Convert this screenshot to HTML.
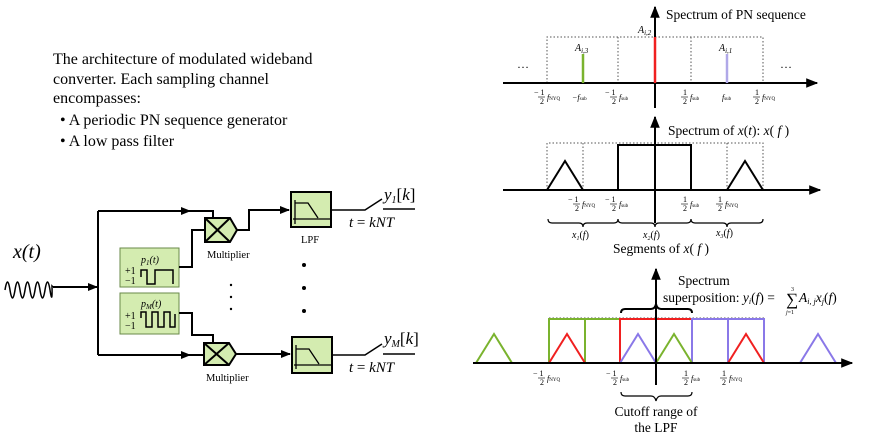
<!DOCTYPE html>
<html><head><meta charset="utf-8"><style>
body{margin:0;background:#fff;}
svg{display:block;font-family:"Liberation Serif",serif;}
.i{font-style:italic}
</style></head><body>
<svg width="871" height="437" viewBox="0 0 871 437" xmlns="http://www.w3.org/2000/svg">
<defs>
<marker id="a" viewBox="0 0 10 10" refX="9" refY="5" markerWidth="10" markerHeight="10" markerUnits="userSpaceOnUse" orient="auto"><path d="M0,1 L10,5 L0,9 z" fill="#000"/></marker>
<marker id="b" viewBox="0 0 10 10" refX="9" refY="5" markerWidth="12" markerHeight="12" markerUnits="userSpaceOnUse" orient="auto"><path d="M0,1 L10,5 L0,9 z" fill="#000"/></marker>
</defs>

<!-- left text -->
<g font-size="16">
<text x="53" y="64">The architecture of modulated wideband</text>
<text x="53" y="84">converter. Each sampling channel</text>
<text x="53" y="103">encompasses:</text>
<text x="60" y="125">• A periodic PN sequence generator</text>
<text x="60" y="146">• A low pass filter</text>
</g>

<!-- block diagram -->
<text x="13" y="258" font-size="20" class="i">x(t)</text>
<path d="M5,290 q2.5,-16 5,0 t5,0 t5,0 t5,0 t5,0 t5,0 t5,0 t5,0 t5,0 t2,-4 L53,287" fill="none" stroke="#000" stroke-width="1.5"/>
<line x1="53" y1="287" x2="97" y2="287" stroke="#000" stroke-width="2" marker-end="url(#a)"/>
<line x1="98" y1="211" x2="98" y2="355" stroke="#000" stroke-width="2"/>
<polyline points="98,211 190,211" fill="none" stroke="#000" stroke-width="2" marker-end="url(#a)"/>
<polyline points="188,211 213,211 213,218" fill="none" stroke="#000" stroke-width="2"/>
<polyline points="98,355 190,355" fill="none" stroke="#000" stroke-width="2" marker-end="url(#a)"/>
<line x1="188" y1="355" x2="204" y2="355" stroke="#000" stroke-width="2"/>

<!-- multipliers -->
<g stroke="#000" stroke-width="2" fill="#d4ecb0">
<path d="M205,218 H230 L237,230 L230,242 H205 Z"/>
<line x1="205" y1="218" x2="230" y2="242"/><line x1="230" y1="218" x2="205" y2="242"/>
<path d="M204,343 H229 L236,354 L229,365 H204 Z"/>
<line x1="204" y1="343" x2="229" y2="365"/><line x1="229" y1="343" x2="204" y2="365"/>
</g>
<text x="207" y="258" font-size="10.5">Multiplier</text>
<text x="206" y="381" font-size="10.5">Multiplier</text>

<!-- PN boxes -->
<g stroke="#6a8a4a" stroke-width="1" fill="#d4ecb0">
<rect x="120" y="248" width="59" height="39"/>
<rect x="120" y="293" width="59" height="41"/>
</g>
<g font-size="10">
<text x="141" y="263" class="i">p<tspan font-size="7" dy="2">1</tspan><tspan dy="-2">(t)</tspan></text>
<text x="141" y="307" class="i">p<tspan font-size="7" dy="2">M</tspan><tspan dy="-2">(t)</tspan></text>
<text x="125" y="274">+1</text><text x="125" y="284">−1</text>
<text x="125" y="319">+1</text><text x="125" y="329">−1</text>
</g>
<polyline points="141,277 141,270 147,270 147,284 155,284 155,270 173,270 173,284" fill="none" stroke="#000" stroke-width="1.5"/>
<polyline points="141,318 141,312 146,312 146,327 152,327 152,312 158,312 158,327 164,327 164,312 170,312 170,327 175,327 175,314" fill="none" stroke="#000" stroke-width="1.5"/>
<polyline points="179,267 192,267 192,230 205,230" fill="none" stroke="#000" stroke-width="2"/>
<polyline points="179,313 192,313 192,335 213,335 213,343" fill="none" stroke="#000" stroke-width="2"/>

<!-- mult to LPF -->
<polyline points="237,230 249,230 249,210 289,210" fill="none" stroke="#000" stroke-width="2" marker-end="url(#a)"/>
<line x1="236" y1="354" x2="290" y2="354" stroke="#000" stroke-width="2" marker-end="url(#a)"/>

<!-- LPFs -->
<g stroke="#000" stroke-width="2" fill="#d4ecb0">
<rect x="291" y="192" width="40" height="35"/>
<rect x="292" y="337" width="40" height="36"/>
</g>
<g stroke="#000" stroke-width="1.3" fill="none">
<polyline points="295,200 295,224"/><polyline points="293,219 330,219"/><polyline points="295,203 308,203 318,218"/>
<polyline points="296,345 296,369"/><polyline points="294,365 331,365"/><polyline points="296,349 309,349 319,364"/>
</g>
<text x="301" y="243" font-size="10.5">LPF</text>

<!-- outputs -->
<g stroke="#000" stroke-width="1.5" fill="none">
<polyline points="331,210 365,210 382,199"/><line x1="383" y1="209" x2="415" y2="209"/>
<polyline points="332,355 365,355 382,344"/><line x1="383" y1="354" x2="415" y2="354"/>
</g>
<text x="384" y="200" font-size="17" class="i">y<tspan font-size="10" dy="3">1</tspan><tspan dy="-3" font-style="normal">[</tspan>k<tspan font-style="normal">]</tspan></text>
<text x="384" y="344" font-size="17" class="i">y<tspan font-size="10" dy="3">M</tspan><tspan dy="-3" font-style="normal">[</tspan>k<tspan font-style="normal">]</tspan></text>
<text x="349" y="227" font-size="15" class="i">t <tspan font-style="normal">=</tspan> kNT</text>
<text x="349" y="372" font-size="15" class="i">t <tspan font-style="normal">=</tspan> kNT</text>
<g fill="#000">
<circle cx="231" cy="285" r="1.2"/><circle cx="231" cy="297" r="1.2"/><circle cx="231" cy="309" r="1.2"/>
<circle cx="304" cy="265" r="2"/><circle cx="304" cy="288" r="2"/><circle cx="304" cy="311" r="2"/>
</g>

<!-- TOP SPECTRUM -->
<g stroke="#555" stroke-width="1" stroke-dasharray="1.5,2" fill="none">
<polyline points="547,83 547,37 763,37 763,83"/>
<line x1="618" y1="37" x2="618" y2="83"/><line x1="691" y1="37" x2="691" y2="83"/>
</g>
<line x1="503" y1="83" x2="817" y2="83" stroke="#000" stroke-width="2" marker-end="url(#b)"/>
<line x1="655" y1="108" x2="655" y2="7" stroke="#000" stroke-width="2" marker-end="url(#b)"/>
<line x1="655" y1="37" x2="655" y2="83" stroke="#f02020" stroke-width="2.5"/>
<line x1="583" y1="54" x2="583" y2="83" stroke="#7ab32e" stroke-width="2.5"/>
<line x1="727" y1="54" x2="727" y2="83" stroke="#b0a8e8" stroke-width="2.5"/>
<text x="666" y="19" font-size="13.5">Spectrum of PN sequence</text>
<g font-size="10" class="i">
<text x="638" y="33">A<tspan font-size="7" dy="2">i,2</tspan></text>
<text x="575" y="51">A<tspan font-size="7" dy="2">i,3</tspan></text>
<text x="719" y="51">A<tspan font-size="7" dy="2">i,1</tspan></text>
</g>
<text x="517" y="68" font-size="12">…</text><text x="780" y="68" font-size="12">…</text>
<g font-size="8">
<text x="534" y="95">− <tspan>1</tspan></text><text x="540" y="104">2</text><line x1="538" y1="97" x2="545" y2="97" stroke="#000" stroke-width=".6"/><text x="547" y="100" class="i">f<tspan font-size="5" font-style="normal">NYQ</tspan></text>
<text x="572" y="100" class="i">−f<tspan font-size="5" font-style="normal">sub</tspan></text>
<text x="605" y="95">− 1</text><text x="612" y="104">2</text><line x1="610" y1="97" x2="617" y2="97" stroke="#000" stroke-width=".6"/><text x="619" y="100" class="i">f<tspan font-size="5" font-style="normal">sub</tspan></text>
<text x="683" y="95">1</text><text x="683" y="104">2</text><line x1="681" y1="97" x2="688" y2="97" stroke="#000" stroke-width=".6"/><text x="690" y="100" class="i">f<tspan font-size="5" font-style="normal">sub</tspan></text>
<text x="722" y="100" class="i">f<tspan font-size="5" font-style="normal">sub</tspan></text>
<text x="755" y="95">1</text><text x="755" y="104">2</text><line x1="753" y1="97" x2="760" y2="97" stroke="#000" stroke-width=".6"/><text x="762" y="100" class="i">f<tspan font-size="5" font-style="normal">NYQ</tspan></text>
</g>

<!-- MIDDLE SPECTRUM -->
<g stroke="#555" stroke-width="1" stroke-dasharray="1.5,2" fill="none">
<polyline points="547,190 547,143 763,143 763,190"/>
<line x1="583" y1="143" x2="583" y2="190"/><line x1="727" y1="143" x2="727" y2="190"/>
</g>
<line x1="503" y1="190" x2="820" y2="190" stroke="#000" stroke-width="2" marker-end="url(#b)"/>
<line x1="655" y1="223" x2="655" y2="117" stroke="#000" stroke-width="2" marker-end="url(#b)"/>
<g stroke="#000" stroke-width="2" fill="none">
<polyline points="618,190 618,145 691,145 691,190"/>
<polyline points="547,190 565,161 583,190"/>
<polyline points="727,190 745,161 763,190"/>
</g>
<text x="668" y="135" font-size="13.5">Spectrum of <tspan class="i">x</tspan>(<tspan class="i">t</tspan>): <tspan class="i">x</tspan>( <tspan class="i">f</tspan> )</text>
<g font-size="8">
<text x="568" y="202">− 1</text><text x="575" y="211">2</text><line x1="573" y1="204" x2="580" y2="204" stroke="#000" stroke-width=".6"/><text x="582" y="207" class="i">f<tspan font-size="5" font-style="normal">NYQ</tspan></text>
<text x="605" y="202">− 1</text><text x="612" y="211">2</text><line x1="610" y1="204" x2="617" y2="204" stroke="#000" stroke-width=".6"/><text x="619" y="207" class="i">f<tspan font-size="5" font-style="normal">sub</tspan></text>
<text x="683" y="202">1</text><text x="683" y="211">2</text><line x1="681" y1="204" x2="688" y2="204" stroke="#000" stroke-width=".6"/><text x="690" y="207" class="i">f<tspan font-size="5" font-style="normal">sub</tspan></text>
<text x="718" y="202">1</text><text x="718" y="211">2</text><line x1="716" y1="204" x2="723" y2="204" stroke="#000" stroke-width=".6"/><text x="725" y="207" class="i">f<tspan font-size="5" font-style="normal">NYQ</tspan></text>
</g>
<g stroke="#000" stroke-width="1.2" fill="none">
<path d="M548,219 q0,4 4,4 H579 q4,0 4,4 q0,-4 4,-4 H614 q4,0 4,-4"/>
<path d="M618,219 q0,4 4,4 H651 q4,0 4,4 q0,-4 4,-4 H687 q4,0 4,-4"/>
<path d="M691,219 q0,4 4,4 H723 q4,0 4,4 q0,-4 4,-4 H759 q4,0 4,-4"/>
</g>
<g font-size="10" class="i">
<text x="572" y="238">x<tspan font-size="6" dy="2">1</tspan><tspan dy="-2" font-style="normal">(</tspan>f<tspan font-style="normal">)</tspan></text>
<text x="643" y="238">x<tspan font-size="6" dy="2">2</tspan><tspan dy="-2" font-style="normal">(</tspan>f<tspan font-style="normal">)</tspan></text>
<text x="716" y="236">x<tspan font-size="6" dy="2">3</tspan><tspan dy="-2" font-style="normal">(</tspan>f<tspan font-style="normal">)</tspan></text>
</g>
<text x="613" y="253" font-size="13.5">Segments of <tspan class="i">x</tspan>( <tspan class="i">f</tspan> )</text>

<!-- BOTTOM SPECTRUM -->
<line x1="549" y1="318" x2="764" y2="318" stroke="#555" stroke-dasharray="1.5,2"/>
<g fill="none" stroke-width="2">
<polyline points="549,363 549,319 620,319 620,363" stroke="#7ab32e"/><line x1="585" y1="319" x2="585" y2="363" stroke="#7ab32e"/>
<polyline points="620,363 620,319 692,319 692,363" stroke="#f02020"/><line x1="656" y1="319" x2="656" y2="363" stroke="#f02020"/>
<polyline points="692,363 692,319 764,319 764,363" stroke="#8a78e8"/><line x1="728" y1="319" x2="728" y2="363" stroke="#8a78e8"/>
<polyline points="476,363 494,334 512,363" stroke="#7ab32e"/>
<polyline points="549,363 567,334 585,363" stroke="#f02020"/>
<polyline points="620,363 638,334 656,363" stroke="#8a78e8"/>
<polyline points="656,363 674,334 692,363" stroke="#7ab32e"/>
<polyline points="728,363 746,334 764,363" stroke="#f02020"/>
<polyline points="800,363 818,334 836,363" stroke="#8a78e8"/>
</g>
<line x1="473" y1="363" x2="852" y2="363" stroke="#000" stroke-width="2" marker-end="url(#b)"/>
<line x1="656" y1="385" x2="656" y2="269" stroke="#000" stroke-width="2" marker-end="url(#b)"/>
<path d="M621,313 q0,-4 4,-4 H651 q4,0 5,-5 q1,5 5,5 H688 q4,0 4,4" fill="none" stroke="#000" stroke-width="2"/>
<text x="678" y="285" font-size="13.5">Spectrum</text>
<text x="663" y="302" font-size="13.5">superposition: <tspan class="i">y<tspan font-size="8" dy="2">i</tspan><tspan dy="-2" font-style="normal">(</tspan>f<tspan font-style="normal">) = </tspan></tspan></text>
<text x="786" y="305" font-size="17">∑</text>
<text x="791" y="291" font-size="6">3</text>
<text x="786" y="314" font-size="6" class="i">j<tspan font-style="normal">=1</tspan></text>
<text x="799" y="302" font-size="13.5" class="i">A<tspan font-size="8" dy="2">i, j</tspan><tspan dy="-2">x</tspan><tspan font-size="8" dy="2">j</tspan><tspan dy="-2" font-style="normal">(</tspan>f<tspan font-style="normal">)</tspan></text>
<g font-size="8">
<text x="533" y="376">− 1</text><text x="540" y="385">2</text><line x1="538" y1="378" x2="545" y2="378" stroke="#000" stroke-width=".6"/><text x="547" y="381" class="i">f<tspan font-size="5" font-style="normal">NYQ</tspan></text>
<text x="606" y="376">− 1</text><text x="613" y="385">2</text><line x1="611" y1="378" x2="618" y2="378" stroke="#000" stroke-width=".6"/><text x="620" y="381" class="i">f<tspan font-size="5" font-style="normal">sub</tspan></text>
<text x="684" y="376">1</text><text x="684" y="385">2</text><line x1="682" y1="378" x2="689" y2="378" stroke="#000" stroke-width=".6"/><text x="691" y="381" class="i">f<tspan font-size="5" font-style="normal">sub</tspan></text>
<text x="722" y="376">1</text><text x="722" y="385">2</text><line x1="720" y1="378" x2="727" y2="378" stroke="#000" stroke-width=".6"/><text x="729" y="381" class="i">f<tspan font-size="5" font-style="normal">NYQ</tspan></text>
</g>
<path d="M621,392 q0,4 4,4 H651 q4,0 5,5 q1,-5 5,-5 H688 q4,0 4,-4" fill="none" stroke="#000" stroke-width="1.2"/>
<text x="656" y="416" font-size="13.5" text-anchor="middle">Cutoff range of</text>
<text x="656" y="432" font-size="13.5" text-anchor="middle">the LPF</text>
</svg>
</body></html>
